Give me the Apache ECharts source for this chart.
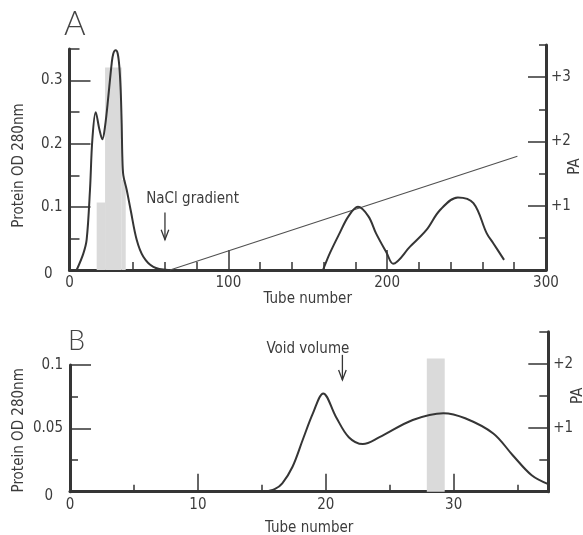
<!DOCTYPE html>
<html><head><meta charset="utf-8">
<script src="https://cdn.jsdelivr.net/npm/echarts@6/dist/echarts.min.js"></script>
<style>html,body{margin:0;padding:0;background:#fff}#c{width:583px;height:535px}</style>
</head><body><div id="c"></div>
<script>
// ---------- Panel A data ----------
const aProteinEarly = [[4.5,0],[8.7,0.026],[10.8,0.048],[12.9,0.127],[14.4,0.207],[16.5,0.25],[18.8,0.223],[20.7,0.207],[22.4,0.228],[24.5,0.276],[26.55,0.327],[27.6,0.343],[29.07,0.348],[30.33,0.343],[31.38,0.322],[32.22,0.285],[32.85,0.232],[33.27,0.179],[33.9,0.15],[36.0,0.127],[38.5,0.095],[42.3,0.048],[46.5,0.021],[52.8,0.005],[62,0]];
const aProteinLate = [[159.6,0],[164,0.027],[170,0.058],[175.6,0.085],[181.6,0.1],[188.2,0.085],[193,0.058],[199.7,0.027],[203.7,0.01],[214.4,0.037],[224.6,0.063],[233.3,0.095],[244.5,0.115],[254.3,0.106],[262.7,0.058],[266.9,0.042],[273.6,0.016]];
const naclGradient = [[63.3,0],[282,0.18]];
const aActivityBars = [[17.1,22.4,1.05],[22.4,32.9,3.15],[32.9,35.4,1.4]]; // [from tube, to tube, PA]
const aXLabels = [0,100,200,300];
const aXMajor = [100,200];
const aXMinor = [20,40,60,80,120,140,160,180,220,240,260,280];
const aYLabels = [0,0.1,0.2,0.3];
const aYMajor = [0.1,0.2,0.3];
const aYMinor = [0.05,0.15,0.25,0.35];
const aPALabels = [1,2,3];
const aPAMajor = [1,2,3];
const aPAMinor = [0.5,1.5,2.5,3.5];

// ---------- Panel B data ----------
const bProtein = [[15.2,0],[16,0.002],[16.6,0.0066],[17.4,0.0197],[18.2,0.041],[19,0.062],[19.8,0.0776],[20.8,0.059],[21.8,0.043],[22.9,0.0376],[24.2,0.043],[26.8,0.0566],[29.2,0.062],[30.9,0.058],[33.1,0.046],[34.6,0.029],[36.1,0.013],[37.4,0.006]];
const bActivityBars = [[27.9,29.3,2.08]];
const bXLabels = [0,10,20,30];
const bXMajor = [10,20,30];
const bXMinor = [5,15,25,35];
const bYLabels = [0,0.05,0.1];
const bYMajor = [0.05,0.1];
const bYMinor = [0.025,0.075];
const bPALabels = [1,2];
const bPAMajor = [1,2];
const bPAMinor = [0.5,1.5,2.5];

// ---------- styles ----------
const FONT = "'DejaVu Sans Condensed', 'Liberation Sans Narrow', 'DejaVu Sans', sans-serif";
const INK = '#353535';
const TXT = '#3c3c3c';
const SHADE = '#dadada';
const FS = 15;

function zeroFmt(v, digits){
  if (v === 0) return '{z|0}';
  return digits ? v.toFixed(digits) : String(v);
}
const zeroRich = { z: { fontFamily: FONT, fontSize: FS, color: TXT, padding: [9, 10, 0, 0] } };

function mainAxis(o){
  return Object.assign({
    type:'value', splitLine:{show:false}, nameMoveOverlap:false,
    axisLine:{show:true, onZero:false, lineStyle:{color:INK, width:3}},
  }, o, {nameTextStyle:Object.assign({fontFamily:FONT, fontSize:FS, color:TXT}, o.nameTextStyle || {})});
}
function minorAxis(o){
  return Object.assign({
    type:'value', splitLine:{show:false},
    axisLine:{show:false, onZero:false},
    axisLabel:{show:false},
  }, o);
}
function ticks(vals, len){
  return {show:true, inside:true, customValues:vals, length:len, lineStyle:{color:INK, width:1.5}};
}
function labels(vals, o){
  return Object.assign({show:true, customValues:vals, fontFamily:FONT, fontSize:FS, color:TXT}, o);
}

function barItem(params, api){
  const x0 = api.value(0), x1 = api.value(1), v = api.value(2);
  const p0 = api.coord([x0, v]), p1 = api.coord([x1, 0]);
  return {type:'rect', shape:{x:p0[0], y:p0[1], width:p1[0]-p0[0], height:p1[1]-p0[1]}, style:{fill:SHADE}};
}

const chart = echarts.init(document.getElementById('c'), null, {renderer:'canvas'});
const G = {outerBoundsMode:'none', containLabel:false};
const option = {
  animation:false,
  backgroundColor:'#fff',
  grid:[
    Object.assign({left:69.5, top:49, width:476.5, height:221}, G),
    Object.assign({left:69.5, top:45, width:476.5, height:225}, G),
    Object.assign({left:70, top:365, width:478.3, height:126.7}, G),
    Object.assign({left:70, top:331.7, width:478.3, height:160}, G)
  ],
  xAxis:[
    mainAxis({gridIndex:0, position:'bottom', min:0, max:300,
      axisTick:ticks(aXMajor,20), axisLabel:labels(aXLabels,{margin:6}),
      name:'Tube number', nameLocation:'middle', nameGap:22}),
    minorAxis({gridIndex:0, position:'bottom', min:0, max:300, axisTick:ticks(aXMinor,8)}),
    {gridIndex:1, type:'value', min:0, max:300, show:false},
    mainAxis({gridIndex:2, position:'bottom', min:0, max:37.4,
      axisTick:ticks(bXMajor,18), axisLabel:labels(bXLabels,{margin:6}),
      name:'Tube number', nameLocation:'middle', nameGap:29}),
    minorAxis({gridIndex:2, position:'bottom', min:0, max:37.4, axisTick:ticks(bXMinor,7)}),
    {gridIndex:3, type:'value', min:0, max:37.4, show:false}
  ],
  yAxis:[
    mainAxis({gridIndex:0, position:'left', min:0, max:0.35,
      axisTick:ticks(aYMajor,21), axisLabel:labels(aYLabels,{margin:7, formatter:v=>zeroFmt(v,1), rich:zeroRich}),
      name:'Protein OD 280nm', nameLocation:'middle', nameGap:43, nameRotate:90,
      nameTextStyle:{padding:[0,12,0,0]}}),
    minorAxis({gridIndex:0, position:'left', offset:0, min:0, max:0.35, axisTick:ticks(aYMinor,10)}),
    mainAxis({gridIndex:1, position:'right', min:0, max:3.5,
      axisTick:ticks(aPAMajor,18), axisLabel:labels(aPALabels,{margin:5, formatter:v=>'+'+v}),
      name:'PA', nameLocation:'middle', nameGap:22, nameRotate:90,
      nameTextStyle:{padding:[0,18,0,0]}}),
    minorAxis({gridIndex:1, position:'right', offset:0, min:0, max:3.5, axisTick:ticks(aPAMinor,7)}),
    mainAxis({gridIndex:2, position:'left', min:0, max:0.1,
      axisTick:ticks(bYMajor,21), axisLabel:labels(bYLabels,{margin:7, formatter:v=>zeroFmt(v,0), rich:zeroRich}),
      name:'Protein OD 280nm', nameLocation:'middle', nameGap:43, nameRotate:90,
      nameTextStyle:{padding:[0,4,0,0]}}),
    minorAxis({gridIndex:2, position:'left', offset:0, min:0, max:0.1, axisTick:ticks(bYMinor,8)}),
    mainAxis({gridIndex:3, position:'right', min:0, max:2.5,
      axisTick:ticks(bPAMajor,20), axisLabel:labels(bPALabels,{margin:5, formatter:v=>'+'+v}),
      name:'PA', nameLocation:'middle', nameGap:22, nameRotate:90,
      nameTextStyle:{padding:[0,0,0,32]}}),
    minorAxis({gridIndex:3, position:'right', offset:0, min:0, max:2.5, axisTick:ticks(bPAMinor,9)})
  ],
  series:[
    {type:'custom', xAxisIndex:2, yAxisIndex:2, data:aActivityBars, renderItem:barItem, encode:{x:[0,1], y:2}, z:1, silent:true},
    {type:'line', xAxisIndex:0, yAxisIndex:0, data:naclGradient, symbol:'none', lineStyle:{color:'#505050', width:1.1}, z:2, clip:false},
    {type:'line', xAxisIndex:0, yAxisIndex:0, data:aProteinEarly, smooth:0.35, symbol:'none', lineStyle:{color:INK, width:2}, z:3, clip:false},
    {type:'line', xAxisIndex:0, yAxisIndex:0, data:aProteinLate, smooth:0.35, symbol:'none', lineStyle:{color:INK, width:2}, z:3, clip:false},
    {type:'custom', xAxisIndex:5, yAxisIndex:6, data:bActivityBars, renderItem:barItem, encode:{x:[0,1], y:2}, z:1, silent:true},
    {type:'line', xAxisIndex:3, yAxisIndex:4, data:bProtein, smooth:0.35, symbol:'none', lineStyle:{color:INK, width:2}, z:3, clip:false}
  ]
};
chart.setOption(option);

// ---------- annotations anchored in data coordinates ----------
function px(grid, pt){ return chart.convertToPixel({xAxisIndex: grid===0?0:3, yAxisIndex: grid===0?0:4}, pt); }
function arrow(tail, head){
  return {type:'group', z:10, children:[
    {type:'line', shape:{x1:tail[0], y1:tail[1], x2:head[0], y2:head[1]}, style:{stroke:INK, lineWidth:1.3}},
    {type:'polyline', shape:{points:[[head[0]-3.8, head[1]-10],[head[0], head[1]],[head[0]+3.8, head[1]-10]]}, style:{stroke:INK, lineWidth:1.3, fill:null}}
  ]};
}
function label(pt, text){
  return {type:'text', z:10, style:{text:text, x:pt[0], y:pt[1], align:'center', verticalAlign:'middle', fontFamily:FONT, fontSize:FS, fill:TXT}};
}
const naclTail = px(0, [60.1, 0.091]), naclHead = px(0, [60.1, 0.048]);
const naclText = px(0, [77.5, 0.112]);
const voidTail = px(2, [21.3, 0.108]), voidHead = px(2, [21.3, 0.0882]);
const voidText = px(2, [18.6, 0.1126]);

chart.setOption({graphic:[
  arrow(naclTail, naclHead), label(naclText, 'NaCl gradient'),
  arrow(voidTail, voidHead), label(voidText, 'Void volume'),
  {type:'text', left:64, top:8, style:{text:'A', fontFamily:"Lato, 'Open Sans', sans-serif", fontWeight:300, fontSize:33, fill:'#444'}},
  {type:'text', left:68, top:328, style:{text:'B', fontFamily:"Lato, 'Open Sans', sans-serif", fontWeight:300, fontSize:27, fill:'#444'}}
]});
</script></body></html>
